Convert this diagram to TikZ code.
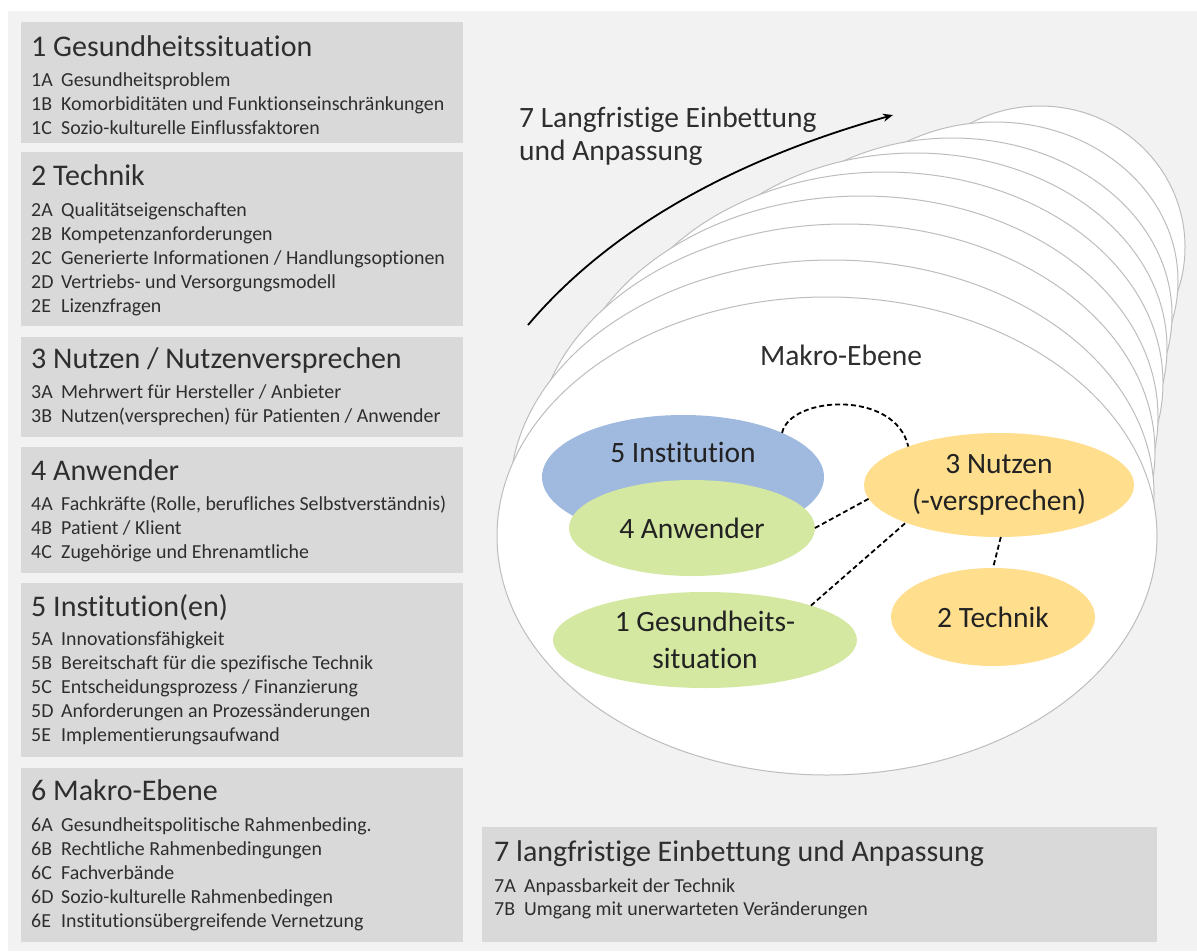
\documentclass[tikz,border=0pt]{standalone}
\usepackage{fontspec}
\setmainfont{Carlito}[Ligatures=CommonOff]
\usetikzlibrary{shapes.geometric,arrows.meta}
\definecolor{bgc}{HTML}{F2F2F2}
\definecolor{boxc}{HTML}{D9D9D9}
\definecolor{txtc}{HTML}{2E2E2E}
\definecolor{ellt}{HTML}{222222}
\definecolor{ringc}{HTML}{BDBDBD}
\definecolor{bluec}{HTML}{A0B9DE}
\definecolor{greenc}{HTML}{D5E8A2}
\definecolor{yellowc}{HTML}{FFDF8E}
\newcommand{\lbl}[1]{\makebox[30pt][l]{#1}}
\begin{document}
\begin{tikzpicture}[x=1pt,y=-1pt,
  boxtitle/.style={anchor=base west, inner sep=0pt, text=txtc, font=\fontsize{30}{30}\selectfont},
  boxitem/.style={anchor=base west, inner sep=0pt, text=txtc, font=\fontsize{19.9}{20}\selectfont},
  panel/.style={fill=boxc},
  ring/.style={fill=white, draw=ringc, line width=1pt},
  ell/.style={ellipse, inner sep=0pt, outer sep=0pt, draw=none, align=center, text=ellt, font=\fontsize{29.5}{37}\selectfont},
  plain/.style={inner sep=0pt, text=ellt, font=\fontsize{29.5}{37}\selectfont},
  dashlink/.style={black, line width=1.8pt, dash pattern=on 5pt off 3pt}]
\useasboundingbox (0,0) rectangle (1197,951);
\fill[white] (0,0) rectangle (1197,951);
\fill[bgc] (8,11) rectangle (1197,951);

% ---- left panels ----
\fill[panel] (21,22) rectangle (463,143);
\node[boxtitle] (t1) at (31,56) {1 Gesundheitssituation};
\node[boxitem] (i1a) at (31,86) {\lbl{1A}Gesundheitsproblem};
\node[boxitem] (i1b) at (31,110) {\lbl{1B}Komorbiditäten und Funktionseinschränkungen};
\node[boxitem] (i1c) at (31,134) {\lbl{1C}Sozio-kulturelle Einflussfaktoren};

\fill[panel] (21,152) rectangle (463,326);
\node[boxtitle] (t2) at (31,185) {2 Technik};
\node[boxitem] (i2a) at (31,216) {\lbl{2A}Qualitätseigenschaften};
\node[boxitem] (i2b) at (31,240) {\lbl{2B}Kompetenzanforderungen};
\node[boxitem] (i2c) at (31,264) {\lbl{2C}Generierte Informationen / Handlungsoptionen};
\node[boxitem] (i2d) at (31,288) {\lbl{2D}Vertriebs- und Versorgungsmodell};
\node[boxitem] (i2e) at (31,312) {\lbl{2E}Lizenzfragen};

\fill[panel] (21,337) rectangle (463,437);
\node[boxtitle] (t3) at (31,368) {3 Nutzen / Nutzenversprechen};
\node[boxitem] (i3a) at (31,398) {\lbl{3A}Mehrwert für Hersteller / Anbieter};
\node[boxitem] (i3b) at (31,422) {\lbl{3B}Nutzen(versprechen) für Patienten / Anwender};

\fill[panel] (21,447) rectangle (463,573);
\node[boxtitle] (t4) at (31,480) {4 Anwender};
\node[boxitem] (i4a) at (31,510) {\lbl{4A}Fachkräfte (Rolle, berufliches Selbstverständnis)};
\node[boxitem] (i4b) at (31,534) {\lbl{4B}Patient / Klient};
\node[boxitem] (i4c) at (31,558) {\lbl{4C}Zugehörige und Ehrenamtliche};

\fill[panel] (21,583) rectangle (463,757);
\node[boxtitle] (t5) at (31,616) {5 Institution(en)};
\node[boxitem] (i5a) at (31,645) {\lbl{5A}Innovationsfähigkeit};
\node[boxitem] (i5b) at (31,669) {\lbl{5B}Bereitschaft für die spezifische Technik};
\node[boxitem] (i5c) at (31,693) {\lbl{5C}Entscheidungsprozess / Finanzierung};
\node[boxitem] (i5d) at (31,717) {\lbl{5D}Anforderungen an Prozessänderungen};
\node[boxitem] (i5e) at (31,741) {\lbl{5E}Implementierungsaufwand};

\fill[panel] (21,768) rectangle (463,942);
\node[boxtitle] (t6) at (31,800) {6 Makro-Ebene};
\node[boxitem] (i6a) at (31,831) {\lbl{6A}Gesundheitspolitische Rahmenbeding.};
\node[boxitem] (i6b) at (31,855) {\lbl{6B}Rechtliche Rahmenbedingungen};
\node[boxitem] (i6c) at (31,879) {\lbl{6C}Fachverbände};
\node[boxitem] (i6d) at (31,903) {\lbl{6D}Sozio-kulturelle Rahmenbedingen};
\node[boxitem] (i6e) at (31,927) {\lbl{6E}Institutionsübergreifende Vernetzung};

\fill[panel] (482,827) rectangle (1157,942);
\node[boxtitle] (t7) at (494,861) {7 langfristige Einbettung und Anpassung};
\node[boxitem] (i7a) at (494,892) {\lbl{7A}Anpassbarkeit der Technik};
\node[boxitem] (i7b) at (494,915) {\lbl{7B}Umgang mit unerwarteten Veränderungen};

% ---- stack of ellipses (back to front) ----
\draw[ring] (1040,247) ellipse [x radius=145pt, y radius=141pt];
\draw[ring] (995,281) ellipse [x radius=183pt, y radius=159pt];
\draw[ring] (952,315) ellipse [x radius=220pt, y radius=177pt];
\draw[ring] (915,348) ellipse [x radius=252pt, y radius=195pt];
\draw[ring] (885,383) ellipse [x radius=278pt, y radius=211pt];
\draw[ring] (862,417) ellipse [x radius=296pt, y radius=221pt];
\draw[ring] (845,452) ellipse [x radius=310pt, y radius=228pt];
\draw[ring] (832,494) ellipse [x radius=322pt, y radius=234pt];
\draw[ring] (827,536) ellipse [x radius=330pt, y radius=239pt];

% ---- arrow and its label ----
\coordinate (arrS) at (528,325);
\coordinate (arrE) at (893,115);
\draw[black, line width=1.8pt, -{Stealth[length=10pt,width=8pt]}] (arrS) .. controls (600,240) and (715,165) .. (arrE);
\node[plain, anchor=base west, text=txtc] (lab1) at (519,127) {7 Langfristige Einbettung};
\node[plain, anchor=base west, text=txtc] (lab2) at (519,160) {und Anpassung};

\node[plain, anchor=base, text=txtc] (makro) at (841,365) {Makro-Ebene};

% ---- inner ellipses ----
\node[ell, fill=bluec, minimum width=282pt, minimum height=124pt] (inst) at (683,477) {};
\node[plain] (instt) at (683,452) {5 Institution};
\node[ell, fill=greenc, minimum width=246pt, minimum height=96pt] (anw) at (692,528) {4 Anwender};
\node[ell, fill=yellowc, minimum width=270pt, minimum height=104pt] (nutz) at (999,485) {3 Nutzen\\(-versprechen)};
\node[ell, fill=yellowc, minimum width=204pt, minimum height=98pt] (tech) at (993,617) {2 Technik};
\node[ell, fill=greenc, minimum width=304pt, minimum height=96pt] (ges) at (705,640) {1 Gesundheits-\\situation};

% ---- dashed connectors ----
\draw[dashlink] (inst.24) .. controls +(8,-37) and +(-13,-57) .. (nutz.157);
\draw[dashlink] (anw.east) -- (nutz.186);
\draw[dashlink] (ges.18) -- (nutz.202);
\draw[dashlink] (nutz.272) -- (tech.north);
\end{tikzpicture}
\end{document}
